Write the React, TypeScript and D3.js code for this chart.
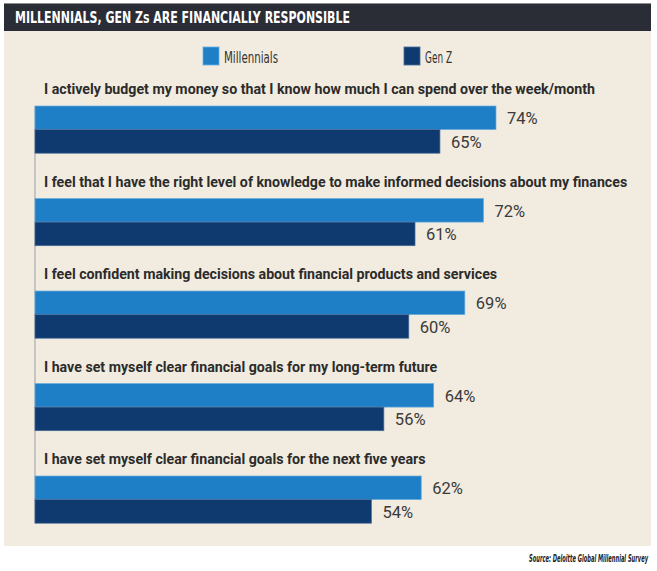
import React from "react";
import * as d3 from "d3";

const title = "MILLENNIALS, GEN Zs ARE FINANCIALLY RESPONSIBLE";
const source = "Source: Deloitte Global Millennial Survey";
const seriesNames = ["Millennials", "Gen Z"];
const categories = [
  "I actively budget my money so that I know how much I can spend over the week/month",
  "I feel that I have the right level of knowledge to make informed decisions about my finances",
  "I feel confident making decisions about financial products and services",
  "I have set myself clear financial goals for my long-term future",
  "I have set myself clear financial goals for the next five years",
];
const millennials = [74, 72, 69, 64, 62];
const genZ = [65, 61, 60, 56, 54];

const W = 657;
const H = 571;
const colors = ["#1f7fc6", "#0f3a70"];
const strokes = ["#6aaee0", "#4a6c98"];

export default function App() {
  const x = d3.scaleLinear().domain([0, 74]).range([35, 496]);
  const y = d3
    .scaleBand<number>()
    .domain(d3.range(categories.length))
    .range([106, 106 + 92.5 * categories.length])
    .paddingInner(0)
    .paddingOuter(0);
  const barH = 23.6;
  const series = [millennials, genZ];

  return (
    <svg
      width={W}
      height={H}
      style={{ position: "absolute", left: 0, top: 0, display: "block" }}
    >
      <rect x={0} y={0} width={W} height={H} fill="#ffffff" />
      <rect x={4} y={3} width={647} height={543} fill="#f2ebdf" />
      <rect x={4} y={3} width={647} height={28} fill="#2a2d36" />
      <line x1={4} x2={651} y1={3.5} y2={3.5} stroke="#8a8c92" strokeWidth={1} />
      <text
        x={15}
        y={23}
        fill="#ffffff"
        fontFamily="'Liberation Sans Narrow', 'DejaVu Sans Condensed', sans-serif"
        fontWeight={700}
        fontSize={16}
        textLength={335}
        lengthAdjust="spacingAndGlyphs"
      >
        {title}
      </text>

      {/* legend */}
      {seriesNames.map((name, i) => {
        const lx = i === 0 ? 203 : 404;
        return (
          <g key={name}>
            <rect x={lx} y={47} width={16} height={18} fill={colors[i]} stroke={strokes[i]} strokeWidth={0.8} />
            <text
              x={lx + 21}
              y={62.5}
              fill="#333333"
              fontFamily="'Liberation Sans Narrow', 'DejaVu Sans Condensed', sans-serif"
              fontSize={16}
              textLength={i === 0 ? 54 : 27}
              lengthAdjust="spacingAndGlyphs"
            >
              {name}
            </text>
          </g>
        );
      })}

      {/* axis line */}
      <line x1={35} x2={35} y1={106} y2={y(categories.length - 1)! + barH * 2} stroke="#b9b9b9" strokeWidth={1.5} />

      {categories.map((c, i) => {
        const top = y(i)!;
        return (
          <g key={c}>
            <text
              x={44}
              y={top - 12}
              fill="#2b2b2b"
              fontFamily="Roboto, 'Liberation Sans', sans-serif"
              fontWeight={700}
              fontSize={14.2}
            >
              {c}
            </text>
            {series.map((s, j) => {
              const by = top + j * barH;
              return (
                <g key={j}>
                  <rect
                    x={35}
                    y={by}
                    width={x(s[i]) - 35}
                    height={barH}
                    fill={colors[j]}
                    stroke={strokes[j]}
                    strokeWidth={0.7}
                  />
                  <text
                    x={x(s[i]) + 11}
                    y={by + barH / 2 + 6.5}
                    fill="#3a3a3a"
                    fontFamily="Roboto, 'Liberation Sans', sans-serif"
                    fontSize={16.5}
                  >
                    {s[i]}%
                  </text>
                </g>
              );
            })}
          </g>
        );
      })}

      <text
        x={648}
        y={562}
        textAnchor="end"
        fill="#222222"
        fontFamily="'Liberation Sans Narrow', 'DejaVu Sans Condensed', sans-serif"
        fontStyle="italic"
        fontWeight={700}
        fontSize={10}
        textLength={119}
        lengthAdjust="spacingAndGlyphs"
      >
        {source}
      </text>
    </svg>
  );
}
